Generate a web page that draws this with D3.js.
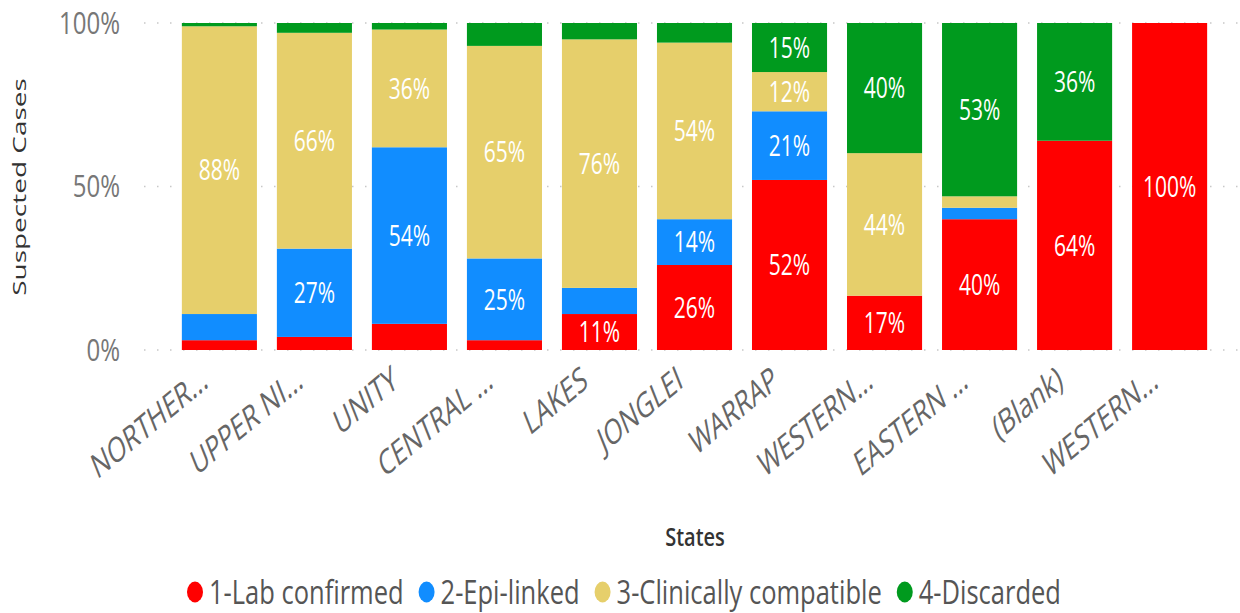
<!DOCTYPE html>
<html>
<head>
<meta charset="utf-8">
<script src="https://cdn.jsdelivr.net/npm/d3@7"></script>
<style>
  body { margin: 0; background: #fff; }
  text { font-family: "Segoe UI", "Open Sans", sans-serif; }
</style>
</head>
<body>
<div id="chart"></div>
<script>
const states = ['NORTHER...', 'UPPER NI...', 'UNITY', 'CENTRAL ...', 'LAKES', 'JONGLEI',
                'WARRAP', 'WESTERN...', 'EASTERN ...', '(Blank)', 'WESTERN...'];
const labConfirmed = [3, 4, 8, 3, 11, 26, 52, 16.6, 40, 64, 100];
const epiLinked    = [8, 27, 54, 25, 8, 14, 21, 0, 3.5, 0, 0];
const clinCompat   = [88, 66, 36, 65, 76, 54, 12, 43.6, 3.5, 0, 0];
const discarded    = [1, 3, 2, 7, 5, 6, 15, 39.8, 53, 36, 0];
const seriesNames  = ['1-Lab confirmed', '2-Epi-linked', '3-Clinically compatible', '4-Discarded'];
const yTicks = [0, 50, 100];

const width = 1240, height = 613;
const sy = 1.3; // vertical stretch of text seen in the reference

const color = d3.scaleOrdinal()
    .domain(seriesNames)
    .range(['#FF0000', '#118DFF', '#E6CF6B', '#009A1E']);

const rows = states.map((s, i) => ({
    idx: i,
    state: s,
    [seriesNames[0]]: labConfirmed[i],
    [seriesNames[1]]: epiLinked[i],
    [seriesNames[2]]: clinCompat[i],
    [seriesNames[3]]: discarded[i]
}));

const svg = d3.select('#chart').append('svg')
    .attr('width', width)
    .attr('height', height);

const x = d3.scaleBand()
    .domain(rows.map(d => d.idx))
    .range([160, 1229])
    .paddingInner(0.21)
    .paddingOuter(0.23);

const y = d3.scaleLinear().domain([0, 100]).range([350, 23]);

// dotted gridlines
svg.append('g').selectAll('line')
    .data(yTicks)
    .enter().append('line')
    .attr('x1', 144).attr('x2', width)
    .attr('y1', d => y(d)).attr('y2', d => y(d))
    .attr('stroke', '#c8c8c8')
    .attr('stroke-width', 1.5)
    .attr('stroke-dasharray', '1.5,11.5');

// y tick labels
svg.append('g').selectAll('text')
    .data(yTicks)
    .enter().append('text')
    .attr('transform', d => `translate(120,${y(d)}) scale(1,${sy})`)
    .attr('dy', '0.35em')
    .attr('text-anchor', 'end')
    .attr('font-size', 24)
    .attr('fill', '#777')
    .text(d => d + '%');

// y title
svg.append('text')
    .attr('transform', `translate(26,187) scale(1,1.6) rotate(-90)`)
    .attr('text-anchor', 'middle')
    .attr('font-size', 17.5)
    .attr('fill', '#333')
    .text('Suspected Cases');

const stack = d3.stack().keys(seriesNames);
const series = stack(rows);

const layers = svg.append('g').selectAll('g')
    .data(series)
    .enter().append('g')
    .attr('fill', d => color(d.key));

layers.selectAll('rect')
    .data(d => d)
    .enter().append('rect')
    .attr('x', d => x(d.data.idx))
    .attr('width', x.bandwidth())
    .attr('y', d => y(d[1]))
    .attr('height', d => y(d[0]) - y(d[1]));

// data labels for segments big enough
const labels = svg.append('g');
series.forEach(s => {
    s.forEach(d => {
        const v = d[1] - d[0];
        if (v < 10) return;
        labels.append('text')
            .attr('transform', `translate(${x(d.data.idx) + x.bandwidth() / 2},${(y(d[0]) + y(d[1])) / 2}) scale(1,1.4)`)
            .attr('dy', '0.35em')
            .attr('text-anchor', 'middle')
            .attr('font-size', 21)
            .attr('fill', '#fff')
            .text(Math.round(v) + '%');
    });
});

// x labels
svg.append('g').selectAll('text')
    .data(rows)
    .enter().append('text')
    .attr('transform', d => `translate(${x(d.idx) + x.bandwidth() / 2 - 10},${386}) scale(1,1.45) rotate(-30)`)
    .attr('text-anchor', 'end')
    .attr('font-size', 24)
    .attr('fill', '#666')
    .text(d => d.state);

// x title
svg.append('text')
    .attr('transform', `translate(695,537) scale(1,${sy})`)
    .attr('dy', '0.35em')
    .attr('text-anchor', 'middle')
    .attr('font-size', 20)
    .attr('font-weight', 600)
    .attr('fill', '#333')
    .text('States');

// legend
const legend = svg.append('g');
let lx = 187;
seriesNames.forEach(name => {
    const g = legend.append('g').attr('transform', `translate(${lx},592) scale(1,${sy})`);
    g.append('circle')
        .attr('cx', 8).attr('cy', 0).attr('r', 8)
        .attr('fill', color(name));
    const t = g.append('text')
        .attr('x', 22)
        .attr('dy', '0.35em')
        .attr('font-size', 25.5)
        .attr('fill', '#555')
        .text(name);
    lx += 22 + t.node().getComputedTextLength() + 15;
});
</script>
</body>
</html>
